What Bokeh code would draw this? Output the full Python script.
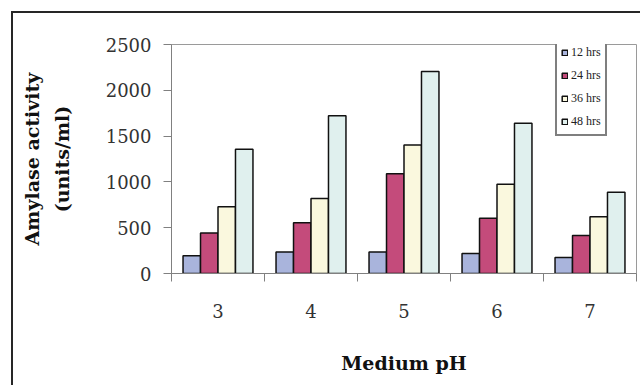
from bokeh.embed import file_html
from bokeh.models import FixedTicker, Legend, LegendItem, Range1d, Title
from bokeh.plotting import figure
from bokeh.resources import INLINE

# Amylase activity (units/ml) by medium pH, sampled at four incubation times
ph_levels = [3, 4, 5, 6, 7]
series_names = ["12 hrs", "24 hrs", "36 hrs", "48 hrs"]
act_12h = [193, 236, 236, 219, 175]
act_24h = [441, 554, 1090, 602, 416]
act_36h = [729, 820, 1404, 974, 619]
act_48h = [1357, 1721, 2206, 1641, 886]
y_ticks = [0, 500, 1000, 1500, 2000, 2500]
bar_colors = ["#A9B4DC", "#C44B7B", "#FAF8DE", "#E0F0EE"]

series_values = [act_12h, act_24h, act_36h, act_48h]

W, H = 629, 374          # canvas size inside the framed page
OFF = 13                 # page margin + border thickness

p = figure(
    width=W, height=H,
    output_backend="svg", toolbar_location=None,
    x_range=Range1d(2.5, 7.5), y_range=Range1d(0, 2500),
    min_border_left=170 - OFF, min_border_right=W - (636 - OFF),
    min_border_top=44 - OFF, min_border_bottom=H - (273 - OFF),
    background_fill_color="white", border_fill_color="white",
    styles={
        "margin-left": "11px", "margin-top": "11px",
        "border-left": "2px solid #262626", "border-top": "2px solid #262626",
    },
)
p.grid.visible = False
p.outline_line_color = "#9a9a9a"
p.outline_line_width = 1

# grouped bars, four per pH level
bar_w = 0.188
offsets = [-1.5 * bar_w, -0.5 * bar_w, 0.5 * bar_w, 1.5 * bar_w]
items = []
for name, vals, col, off in zip(series_names, series_values, bar_colors, offsets):
    r = p.vbar(x=[v + off for v in ph_levels], top=vals, width=bar_w,
               fill_color=col, line_color="#111111", line_width=1.5)
    items.append(LegendItem(label=name, renderers=[r]))

# y axis
ya = p.yaxis[0]
ya.ticker = FixedTicker(ticks=y_ticks)
ya.axis_line_color = "#808080"
ya.major_tick_line_color = "#808080"
ya.major_tick_out = 8
ya.major_tick_in = 0
ya.minor_tick_out = 0
ya.minor_tick_in = 0
ya.major_label_standoff = 12
ya.major_label_text_font = "DejaVu Serif"
ya.major_label_text_font_size = "18px"
ya.major_label_text_color = "#333333"
ya.axis_label = "(units/ml)"
ya.axis_label_text_font = "DejaVu Serif"
ya.axis_label_text_font_style = "bold"
ya.axis_label_text_font_size = "19px"
ya.axis_label_text_color = "#111111"
ya.axis_label_standoff = 30

p.add_layout(Title(
    text="Amylase activity", align="center", standoff=10,
    text_font="DejaVu Serif", text_font_style="bold",
    text_font_size="19px", text_color="#111111",
), "left")

# x axis: labels centred on each pH, ticks on the category boundaries
xa = p.xaxis[0]
xa.ticker = FixedTicker(ticks=ph_levels,
                        minor_ticks=[v - 0.5 for v in ph_levels] + [ph_levels[-1] + 0.5])
xa.axis_line_color = "#808080"
xa.major_tick_out = 0
xa.major_tick_in = 0
xa.minor_tick_line_color = "#808080"
xa.minor_tick_out = 8
xa.minor_tick_in = 0
xa.major_label_standoff = 22
xa.major_label_text_font = "DejaVu Serif"
xa.major_label_text_font_size = "18px"
xa.major_label_text_color = "#333333"
xa.axis_label = "Medium pH"
xa.axis_label_text_font = "DejaVu Serif"
xa.axis_label_text_font_style = "bold"
xa.axis_label_text_font_size = "19px"
xa.axis_label_text_color = "#111111"
xa.axis_label_standoff = 31

legend = Legend(
    items=items, location=(554 - 170, 273 - 136),
    border_line_color="black", border_line_width=2.5,
    background_fill_color="white", background_fill_alpha=1,
    label_text_font="Liberation Serif", label_text_font_size="12px",
    label_text_color="#222222",
    glyph_width=7, glyph_height=7, label_height=17, spacing=6,
    padding=4, margin=0, label_standoff=3,
)
p.add_layout(legend, "center")

open("out.html", "w").write(file_html(p, INLINE))
